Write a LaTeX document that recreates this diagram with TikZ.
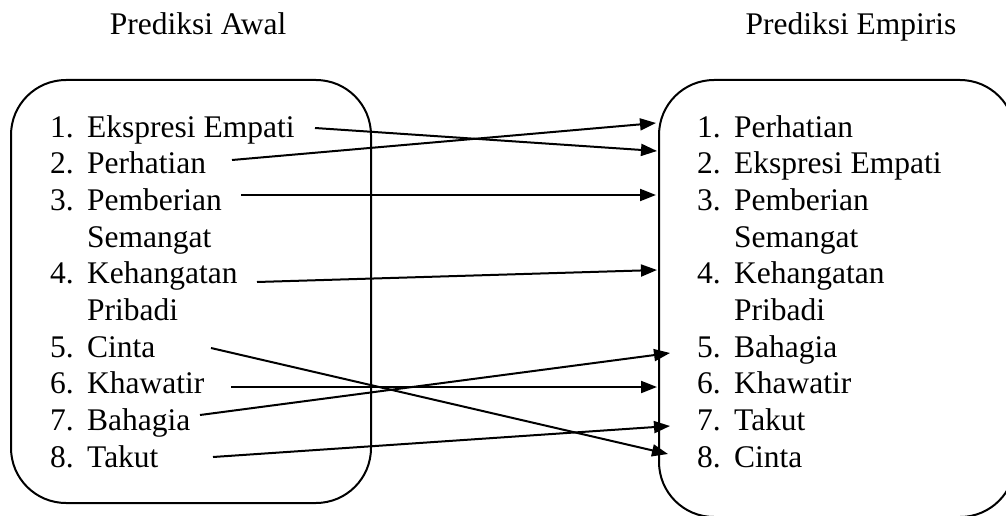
\documentclass[tikz,border=0pt]{standalone}
\usepackage{fontspec}
\setmainfont{Liberation Serif}
\usetikzlibrary{arrows.meta}

\tikzset{
  listfont/.style={font=\fontsize{31.5}{36.7}\selectfont},
  item/.style={listfont, anchor=base west, inner sep=0pt},
  heading/.style={listfont, anchor=base, inner sep=0pt},
  groupbox/.style={draw, line width=2pt, rounded corners=55pt},
  link/.style={line width=2pt, -{Triangle[length=16pt,width=12pt]}},
}
\newcommand{\num}[1]{\makebox[37pt][l]{#1}}

\begin{document}
\begin{tikzpicture}[x=1pt,y=-1pt]
  \useasboundingbox (0,0) rectangle (1006,516);
  \clip (0,0) rectangle (1006,516);

  % headings
  \node[heading] (hL) at (198,35) {Prediksi Awal};
  \node[heading] (hR) at (851,35) {Prediksi Empiris};

  % the two rounded groups
  \draw[groupbox] (11,80) rectangle (371,503);
  \draw[groupbox] (659,80) rectangle (1015,517);

  % left list
  \node[item] (L1) at (50,137.0) {\num{1.}Ekspresi Empati};
  \node[item] (L2) at (50,173.7) {\num{2.}Perhatian};
  \node[item] (L3) at (50,210.4) {\num{3.}Pemberian};
  \node[item] (L3b) at (87,247.1) {Semangat};
  \node[item] (L4) at (50,283.8) {\num{4.}Kehangatan};
  \node[item] (L4b) at (87,320.5) {Pribadi};
  \node[item] (L5) at (50,357.2) {\num{5.}Cinta};
  \node[item] (L6) at (50,393.9) {\num{6.}Khawatir};
  \node[item] (L7) at (50,430.6) {\num{7.}Bahagia};
  \node[item] (L8) at (50,467.3) {\num{8.}Takut};

  % right list
  \node[item] (R1) at (697,137.0) {\num{1.}Perhatian};
  \node[item] (R2) at (697,173.7) {\num{2.}Ekspresi Empati};
  \node[item] (R3) at (697,210.4) {\num{3.}Pemberian};
  \node[item] (R3b) at (734,247.1) {Semangat};
  \node[item] (R4) at (697,283.8) {\num{4.}Kehangatan};
  \node[item] (R4b) at (734,320.5) {Pribadi};
  \node[item] (R5) at (697,357.2) {\num{5.}Bahagia};
  \node[item] (R6) at (697,393.9) {\num{6.}Khawatir};
  \node[item] (R7) at (697,430.6) {\num{7.}Takut};
  \node[item] (R8) at (697,467.3) {\num{8.}Cinta};

  % connector ends
  \coordinate (s1) at (315,128);  \coordinate (e1) at (657,151);
  \coordinate (s2) at (232,160);  \coordinate (e2) at (656,123);
  \coordinate (s3) at (241,195);  \coordinate (e3) at (656,195);
  \coordinate (s4) at (257,282);  \coordinate (e4) at (657,270);
  \coordinate (s5) at (211,348);  \coordinate (e5) at (668,454);
  \coordinate (s6) at (231,387);  \coordinate (e6) at (657,387);
  \coordinate (s7) at (200,415);  \coordinate (e7) at (670,353);
  \coordinate (s8) at (213,457);  \coordinate (e8) at (670,426);

  % mapping from initial to empirical order
  \foreach \i in {1,...,8} {
    \draw[link] (s\i) -- (e\i);
  }
\end{tikzpicture}
\end{document}
